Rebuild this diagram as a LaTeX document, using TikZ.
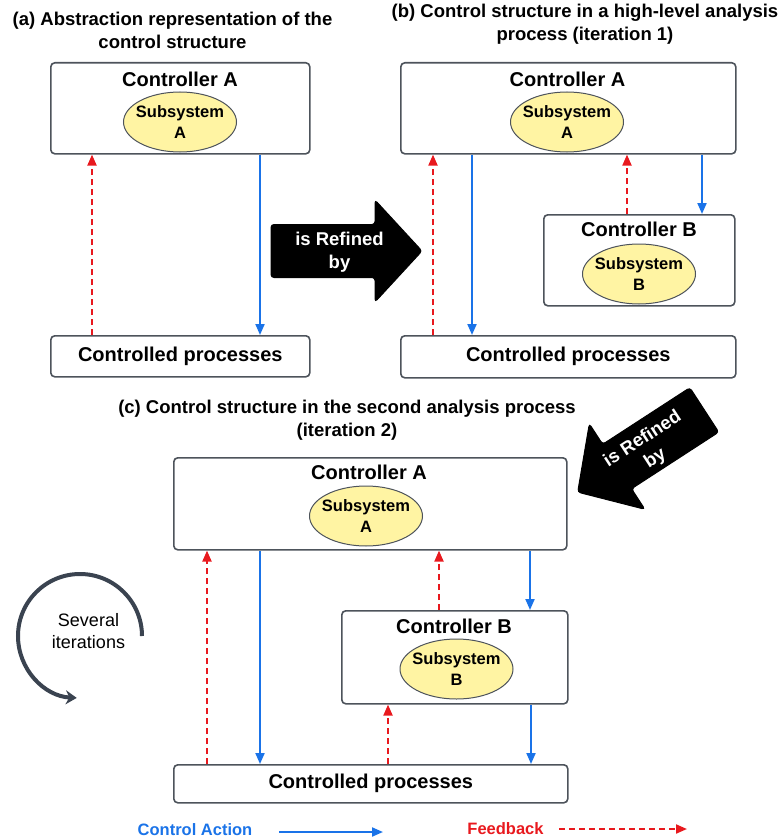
\documentclass[tikz,border=0pt]{standalone}
\usepackage{fontspec}
\setmainfont{Liberation Sans}
\usetikzlibrary{arrows.meta,shapes.geometric}

\definecolor{boxgray}{HTML}{4D535B}
\definecolor{subyellow}{HTML}{FFF4A3}
\definecolor{cablue}{HTML}{1A73E8}
\definecolor{fbred}{HTML}{E8191E}
\definecolor{loopgray}{HTML}{3A4350}

\newcommand{\titlefont}{\fontsize{18.5}{23}\selectfont\bfseries}
\newcommand{\ctlfont}{\fontsize{20}{24}\selectfont\bfseries}
\newcommand{\subfont}{\fontsize{16.5}{21}\selectfont\bfseries}
\newcommand{\legfont}{\fontsize{16.5}{20}\selectfont\bfseries}

\tikzset{
  box/.style={draw=boxgray, line width=1.6pt, rounded corners=4pt, fill=white,
              inner sep=0pt, anchor=north west},
  ctltext/.style={font=\ctlfont, inner sep=0pt},
  subsys/.style={ellipse, draw=boxgray, line width=1pt, fill=subyellow,
                 minimum width=113pt, minimum height=60pt,
                 inner xsep=-5pt, inner ysep=0pt,
                 align=center, font=\subfont},
  titletext/.style={font=\titlefont, align=center, inner sep=0pt},
  ca/.style={draw=cablue, line width=2pt, -{Triangle[length=11pt,width=9pt]}},
  fb/.style={draw=fbred, line width=2pt, dash pattern=on 6pt off 4pt,
             -{Triangle[length=11pt,width=9pt]}},
  refine/.style={fill=black, draw=black, line width=1pt, rounded corners=3pt},
  refinetext/.style={text=white, font=\titlefont, align=center, inner sep=0pt},
}

\begin{document}
\begin{tikzpicture}[x=1pt, y=-1pt]
\useasboundingbox (0,0) rectangle (778,840);

% ---------- (a) abstraction ----------
\node[titletext] (titleA) at (172.5,30.5) {(a) Abstraction representation of the\\control structure};
\node[box, minimum width=259pt, minimum height=91pt] (ctlA1) at (50,62) {};
\node[ctltext] (ctlA1t) at (180,79) {Controller A};
\node[subsys] (subA1) at (180,122) {Subsystem\\A};
\node[box, minimum width=259pt, minimum height=41pt, font=\ctlfont] (proc1) at (50,335) {Controlled processes};
\draw[fb] (proc1.north -| 92,0) -- (ctlA1.south -| 92,0);
\draw[ca] (ctlA1.south -| 260,0) -- (proc1.north -| 260,0);

% ---------- refinement arrow (a) -> (b) ----------
\begin{scope}[shift={(346.5,251)}]
  \fill[refine] (-75.5,-26.5) -- (28.5,-26.5) -- (28.5,-51) -- (75.5,0)
     -- (28.5,51) -- (28.5,26.5) -- (-75.5,26.5) -- cycle;
  \node[refinetext] (ref1) at (-7,1) {is Refined\\by};
\end{scope}

% ---------- (b) iteration 1 ----------
\node[titletext] (titleB) at (585,24) {(b) Control structure in a high-level analysis\\process (iteration 1)};
\node[box, minimum width=335pt, minimum height=91pt] (ctlA2) at (400,62) {};
\node[ctltext] (ctlA2t) at (567.5,79) {Controller A};
\node[subsys] (subA2) at (567,122) {Subsystem\\A};
\node[box, minimum width=191pt, minimum height=91pt] (ctlB2) at (543,214) {};
\node[ctltext] (ctlB2t) at (639,229) {Controller B};
\node[subsys] (subB2) at (639,274) {Subsystem\\B};
\node[box, minimum width=335pt, minimum height=42pt, font=\ctlfont] (proc2) at (400,335) {Controlled processes};
\draw[fb] (proc2.north -| 433,0) -- (ctlA2.south -| 433,0);
\draw[ca] (ctlA2.south -| 472,0) -- (proc2.north -| 472,0);
\draw[fb] (ctlB2.north -| 627,0) -- (ctlA2.south -| 627,0);
\draw[ca] (ctlA2.south -| 702,0) -- (ctlB2.north -| 702,0);

% ---------- refinement arrow (b) -> (c) ----------
\begin{scope}[shift={(641,451)}, rotate=33]
  \fill[refine] (75.5,-26.5) -- (-28.5,-26.5) -- (-28.5,-51) -- (-75.5,0)
     -- (-28.5,51) -- (-28.5,26.5) -- (75.5,26.5) -- cycle;
\end{scope}
\begin{scope}[shift={(641,451)}]
  \node[refinetext, rotate=33] (ref2) at (8,-2) {is Refined\\by};
\end{scope}

% ---------- (c) iteration 2 ----------
\node[titletext] (titleC) at (347,420) {(c) Control structure in the second analysis process\\(iteration 2)};
\node[box, minimum width=393pt, minimum height=92pt] (ctlA3) at (173,457) {};
\node[ctltext] (ctlA3t) at (369,472) {Controller A};
\node[subsys] (subA3) at (366,516) {Subsystem\\A};
\node[box, minimum width=226pt, minimum height=93pt] (ctlB3) at (341,610) {};
\node[ctltext] (ctlB3t) at (454,626) {Controller B};
\node[subsys] (subB3) at (456.5,669) {Subsystem\\B};
\node[box, minimum width=394pt, minimum height=38pt, font=\ctlfont] (proc3) at (173,764) {Controlled processes};
\draw[fb] (proc3.north -| 207,0) -- (ctlA3.south -| 207,0);
\draw[ca] (ctlA3.south -| 260,0) -- (proc3.north -| 260,0);
\draw[fb] (ctlB3.north -| 439,0) -- (ctlA3.south -| 439,0);
\draw[ca] (ctlA3.south -| 530,0) -- (ctlB3.north -| 530,0);
\draw[fb] (proc3.north -| 388,0) -- (ctlB3.south -| 388,0);
\draw[ca] (ctlB3.south -| 531,0) -- (proc3.north -| 531,0);

% ---------- several iterations loop ----------
\coordinate (loopc) at (80,639);
\draw[loopgray, line width=4pt, -{Stealth[length=11pt,width=14pt]}]
  (142,636) arc[start angle=0, end angle=-267, radius=62];
\node[font=\fontsize{18}{22}\selectfont, align=center, inner sep=0pt] (loopt) at (88.5,631) {Several\\iterations};

% ---------- legend ----------
\node[font=\legfont, text=cablue, inner sep=0pt] (legCA) at (195,830) {Control Action};
\coordinate (caS) at (279,832);
\coordinate (caE) at (383,832);
\draw[ca] (caS) -- (caE);
\node[font=\legfont, text=fbred, inner sep=0pt] (legFB) at (505.5,829) {Feedback};
\coordinate (fbS) at (559,829);
\coordinate (fbE) at (687,829);
\draw[fb] (fbS) -- (fbE);
\end{tikzpicture}
\end{document}
